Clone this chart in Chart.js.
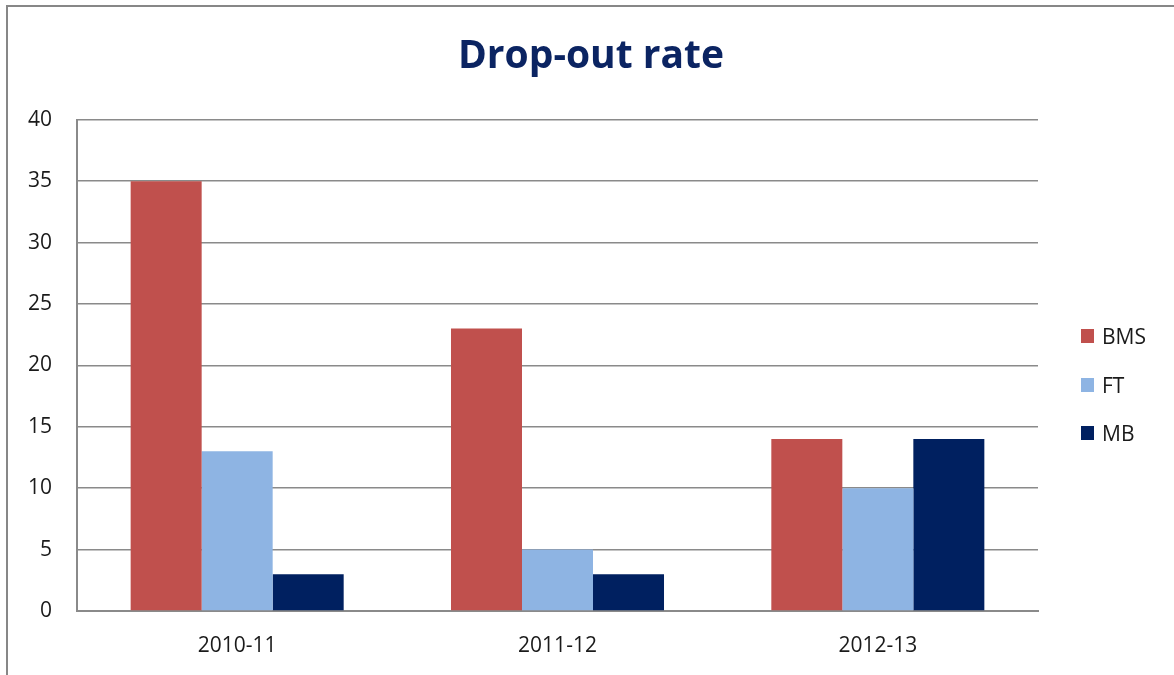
<!DOCTYPE html>
<html>
<head>
<meta charset="utf-8">
<script src="https://cdn.jsdelivr.net/npm/chart.js@4"></script>
<style>
  html, body { margin: 0; padding: 0; background: #fff; }
  #wrap { position: relative; width: 1174px; height: 675px; overflow: hidden; }
  #frame { position: absolute; left: 6px; top: 5px; width: 1200px; height: 700px;
           border-left: 2px solid #878787; border-top: 2px solid #878787; }
  #chart { position: absolute; left: 0; top: 0; }
  #legend { position: absolute; left: 1081px; top: 322px; font-family: "Open Sans", sans-serif;
            font-size: 21px; color: #1a1a1a; }
  .item { height: 48.5px; display: flex; align-items: flex-start; }
  .item span.box { display: inline-block; width: 13px; height: 14px; margin-top: 7px; margin-right: 8px; }
</style>
</head>
<body>
<div id="wrap">
  <div id="frame"></div>
  <canvas id="chart" width="1174" height="675"></canvas>
  <div id="legend"></div>
</div>
<script>
// === Data ===
const years = ['2010-11', '2011-12', '2012-13'];
const bms = [35, 23, 14];
const ft = [13, 5, 10];
const mb = [3, 3, 14];
const yTicks = [0, 5, 10, 15, 20, 25, 30, 35, 40];

const seriesNames = ['BMS', 'FT', 'MB'];
const seriesColors = ['#C0504D', '#8EB4E3', '#002060'];

const gridColor = '#8a8a8a';
const textColor = '#1a1a1a';

const datasets = [bms, ft, mb].map((vals, i) => ({
    label: seriesNames[i],
    data: vals,
    backgroundColor: seriesColors[i],
    borderWidth: 0,
    barPercentage: 1,
    categoryPercentage: 0.665
}));

new Chart(document.getElementById('chart'), {
    type: 'bar',
    data: { labels: years, datasets: datasets },
    options: {
        responsive: false,
        animation: false,
        layout: { padding: { left: 8, right: 0, top: 0, bottom: 0 } },
        plugins: {
            legend: { display: false },
            tooltip: { enabled: false },
            title: {
                display: true,
                text: 'Drop-out rate',
                color: '#0B2462',
                font: { family: 'Open Sans', size: 39, weight: 'bold' },
                padding: { top: 33, bottom: 40 }
            }
        },
        scales: {
            x: {
                grid: { display: false, drawTicks: false },
                border: { display: true, color: gridColor, width: 2 },
                ticks: { color: textColor, font: { family: 'Open Sans', size: 21 }, padding: 22, maxRotation: 0 },
                afterFit(s) { s.height = 64; }
            },
            y: {
                min: 0,
                max: 40,
                afterBuildTicks(s) { s.ticks = yTicks.map(v => ({ value: v })); },
                grid: { color: gridColor, lineWidth: 1.6, drawTicks: false },
                border: { display: true, color: gridColor, width: 2 },
                ticks: { color: textColor, font: { family: 'Open Sans', size: 21 }, padding: 25 },
                afterFit(s) { s.width = 69; }
            },
            // empty right-hand axis that keeps room for the legend
            yRight: {
                position: 'right',
                grid: { display: false, drawTicks: false },
                border: { display: false },
                ticks: { display: false },
                afterFit(s) { s.width = 136; }
            }
        }
    }
});

// === Legend ===
const legend = document.getElementById('legend');
seriesNames.forEach((name, i) => {
    const row = document.createElement('div');
    row.className = 'item';
    row.innerHTML = `<span class="box" style="background:${seriesColors[i]}"></span>${name}`;
    legend.appendChild(row);
});
</script>
</body>
</html>
